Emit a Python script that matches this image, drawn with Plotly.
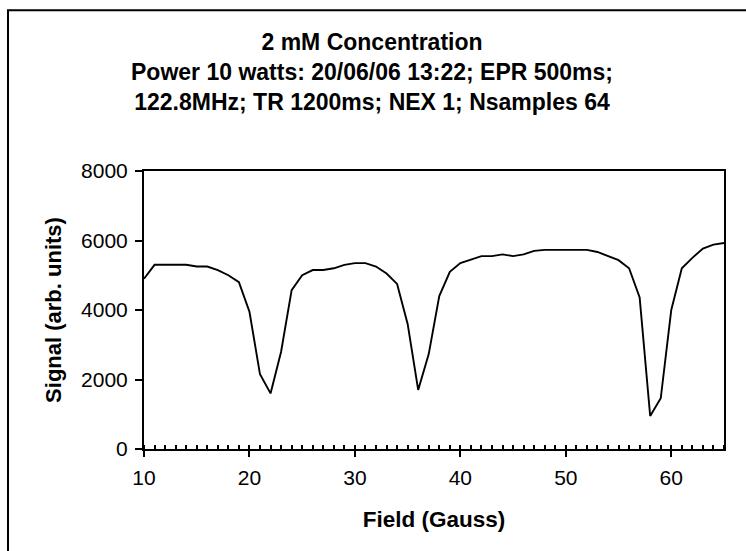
import plotly.graph_objects as go

# Data
field_gauss = list(range(10, 66))
signal = [
    4900, 5300, 5300, 5300, 5300, 5250, 5250, 5150, 5000, 4800,   # 10-19
    3950, 2150, 1600, 2800, 4570, 5000, 5150, 5150, 5200, 5300,   # 20-29
    5350, 5350, 5250, 5050, 4750, 3600, 1700, 2730, 4400, 5100,   # 30-39
    5350, 5450, 5550, 5550, 5600, 5550, 5600, 5700, 5730, 5730,   # 40-49
    5730, 5730, 5730, 5670, 5560, 5435, 5200, 4360, 950, 1460,    # 50-59
    4000, 5200, 5500, 5770, 5880, 5930,                           # 60-65
]
x_ticks = [10, 20, 30, 40, 50, 60]
y_ticks = [0, 2000, 4000, 6000, 8000]

title_lines = [
    "2 mM Concentration",
    "Power 10 watts: 20/06/06 13:22; EPR 500ms;",
    "122.8MHz; TR 1200ms; NEX 1; Nsamples 64",
]

W, H = 746, 551
L, R = 144, 724
T, B = 171, 449.3

fig = go.Figure()
fig.add_trace(go.Scatter(
    x=field_gauss, y=signal, mode="lines",
    line=dict(color="black", width=1.9),
    showlegend=False, hoverinfo="skip",
))

FONT = "Liberation Sans, Arial, sans-serif"

fig.update_layout(
    width=W, height=H,
    margin=dict(l=L, r=W - R, t=T, b=H - B, pad=0),
    paper_bgcolor="white", plot_bgcolor="white",
    font=dict(family=FONT, color="black", size=21),
    title=dict(
        text="<b>" + "<br>".join(title_lines) + "</b>",
        x=0.4987, xref="container", xanchor="center",
        y=1 - 50 / H, yref="container", yanchor="top",
        font=dict(family=FONT, size=23, color="black"),
    ),
    xaxis=dict(
        range=[10, 65], tickvals=x_ticks,
        showline=True, linecolor="black", linewidth=2, mirror=True,
        ticks="outside", ticklen=6, tickwidth=2, tickcolor="black",
        minor=dict(dtick=1, ticks="inside", ticklen=4, tickwidth=1.5, tickcolor="black"),
        showgrid=False, zeroline=False,
        tickfont=dict(size=21, family=FONT),
        ticklabelstandoff=3,
        title=dict(text="<b>Field (Gauss)</b>", font=dict(size=22.5, family=FONT), standoff=23),
    ),
    yaxis=dict(
        range=[0, 8000], tickvals=y_ticks,
        showline=True, linecolor="black", linewidth=2, mirror=True,
        ticks="outside", ticklen=7, tickwidth=2, tickcolor="black",
        showgrid=False, zeroline=False,
        tickfont=dict(size=21, family=FONT),
        ticklabelstandoff=3,
        title=dict(text="<b>Signal (arb. units)</b>", font=dict(size=22, family=FONT), standoff=13),
    ),
)

# outer chart border (left and top edges visible in the reference)
def px_x(p):
    return (p - L) / (R - L)

def px_y(p):
    return (B - p) / (B - T)

fig.add_shape(type="line", xref="paper", yref="paper",
              x0=px_x(8), x1=px_x(8), y0=px_y(10), y1=px_y(560),
              line=dict(color="black", width=2))
fig.add_shape(type="line", xref="paper", yref="paper",
              x0=px_x(7), x1=px_x(760), y0=px_y(10), y1=px_y(10),
              line=dict(color="black", width=2))

# the page body has a default 8px margin; remove it so the figure sits at the window origin
fig.write_html("out.html", config={"displayModeBar": False},
               post_script="document.body.style.margin='0';")
